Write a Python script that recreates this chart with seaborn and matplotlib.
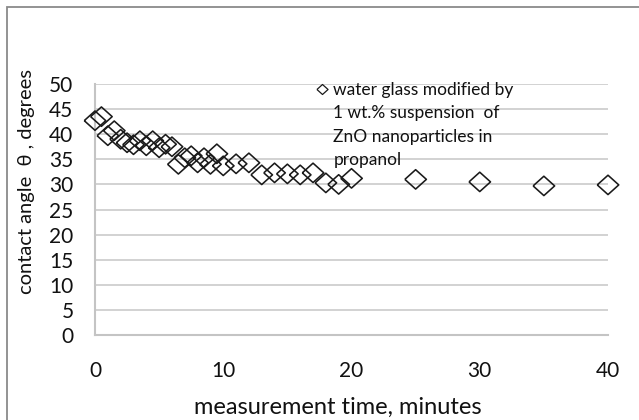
import matplotlib
matplotlib.use("Agg")
import matplotlib.pyplot as plt
from matplotlib.lines import Line2D
from matplotlib.patches import Rectangle
import seaborn as sns
import pandas as pd

# ---- data ----
time_min = [0, 0.5, 1, 1.5, 2, 2.5, 3, 3.5, 4, 4.5, 5, 5.5, 6, 6.5, 7, 7.5, 8, 8.5,
            9, 9.5, 10, 11, 12, 13, 14, 15, 16, 17, 18, 19, 20, 25, 30, 35, 40]
angle_deg = [42.7, 43.5, 39.7, 40.7, 39.0, 38.3, 37.9, 38.7, 37.7, 38.7, 37.3, 38.0,
             37.5, 34.0, 35.3, 35.7, 34.3, 35.3, 34.0, 36.1, 33.7, 34.1, 34.3, 31.9,
             32.3, 32.1, 31.9, 32.3, 30.3, 30.0, 31.2, 31.0, 30.5, 29.7, 29.9]
x_ticks = [0, 10, 20, 30, 40]
y_ticks = [0, 5, 10, 15, 20, 25, 30, 35, 40, 45, 50]
legend_lines = ["water glass modified by", "1 wt.% suspension  of",
                "ZnO nanoparticles in", "propanol"]
x_label = "measurement time, minutes"
y_label = "contact angle  θ , degrees"

df = pd.DataFrame({"t": time_min, "a": angle_deg})

sns.set_style("white")
plt.rcParams["font.family"] = ["Lato", "DejaVu Sans"]

W, H = 639, 420
fig = plt.figure(figsize=(W / 100, H / 100), dpi=100)
ax = fig.add_axes([95 / W, 1 - 335 / H, 513 / W, 251 / H])

diamond = [(-1, 0), (0, -0.9), (1, 0), (0, 0.9), (-1, 0)]

sns.scatterplot(data=df, x="t", y="a", marker=diamond, s=15.5 ** 2,
                color="black", facecolor="none", edgecolor="#1a1a1a",
                linewidth=1.15, ax=ax, legend=False, clip_on=False, zorder=3)

ax.set_xlim(0, 40)
ax.set_ylim(0, 50)
ax.set_xticks(x_ticks)
ax.set_yticks(y_ticks)
ax.set_xticklabels([str(v) for v in x_ticks])
ax.set_yticklabels([str(v) for v in y_ticks])

grid_c = "#cfcfcf"
ax.yaxis.grid(True, color=grid_c, linewidth=1.3)
ax.xaxis.grid(False)
ax.set_axisbelow(True)
for s in ["top", "right"]:
    ax.spines[s].set_visible(False)
for s in ["left", "bottom"]:
    ax.spines[s].set_color("#c4c4c4")
    ax.spines[s].set_linewidth(1.5)

ax.tick_params(axis="both", which="major", direction="out", color="#c4c4c4",
               width=1.3, length=5.5, labelsize=15, labelcolor="#111111")
ax.tick_params(axis="y", pad=10)
ax.tick_params(axis="x", pad=13)

ax.set_xlabel(x_label, fontsize=17, color="#111111")
ax.set_ylabel(y_label, fontsize=14.5, color="#111111")
ax.xaxis.label.set_va("center")
ax.yaxis.label.set_va("center")
ax.xaxis.set_label_coords((338 - 95) / 513, (335 - 407) / 251)
ax.yaxis.set_label_coords((27 - 95) / 513, (335 - 182) / 251)

handles = [Line2D([], [], linestyle="none", marker=diamond, markersize=8,
                  markerfacecolor="none", markeredgecolor="#1a1a1a",
                  markeredgewidth=0.9)]
handles += [Line2D([], [], linestyle="none") for _ in legend_lines[1:]]
fs_leg = 12.5
leg = ax.legend(handles, legend_lines, loc="upper left", frameon=False,
                fontsize=fs_leg, handlelength=0.7, handletextpad=0.3,
                borderpad=0, borderaxespad=0, labelspacing=0.43,
                bbox_to_anchor=((316 - 95) / 513, (335 - 82) / 251))
for t in leg.get_texts():
    t.set_color("#111111")

# outer chart-area frame (only top and left edges inside the picture)
fig.patches.append(Rectangle((7 / W, -0.2), 1.2, 1.2 - 7 / H,
                             transform=fig.transFigure, fill=False,
                             edgecolor="#8a8a8a", linewidth=1.3))

fig.savefig("out.png", dpi=100, facecolor="white")
